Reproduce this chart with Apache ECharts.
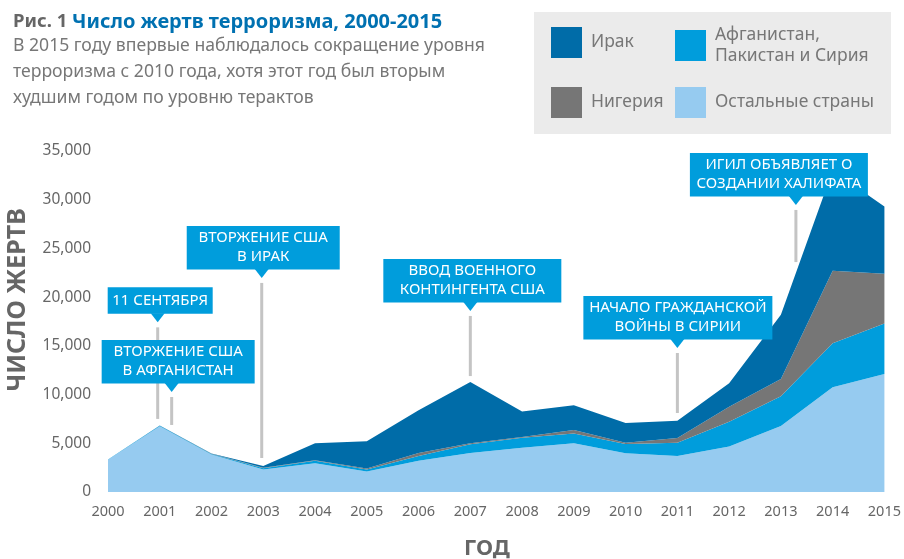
<!DOCTYPE html>
<html>
<head>
<meta charset="utf-8">
<script src="https://cdn.jsdelivr.net/npm/echarts@6/dist/echarts.min.js"></script>
<style>
html,body{margin:0;padding:0;background:#fff;}
#chart{width:904px;height:559px;}
</style>
</head>
<body>
<div id="chart"></div>
<script>
// ---- data ----
const years = ['2000','2001','2002','2003','2004','2005','2006','2007','2008','2009','2010','2011','2012','2013','2014','2015'];
const otherCountries = [3300,6750,3850,2300,2950,2100,3200,4000,4550,5000,3970,3700,4660,6780,10750,12100];
const afghanPakSyria = [30,50,60,150,250,200,500,900,1020,1000,960,1360,2560,3060,4520,5200];
const nigeria = [0,0,10,30,50,100,300,100,80,360,130,480,1540,1760,7430,5100];
const iraq = [10,20,30,200,1750,2800,4400,6300,2600,2540,2020,1780,2400,6600,10300,6900];
const yTicks = [0,5000,10000,15000,20000,25000,30000,35000];

const seriesNames = ['Остальные страны','Афганистан, Пакистан и Сирия','Нигерия','Ирак'];
// event annotations: position along the year axis (fractional) and leader line span in values
const events = [
  {text:'11 СЕНТЯБРЯ', year:2000.96, from:16900, to:7500},
  {text:'ВТОРЖЕНИЕ США\nВ АФГАНИСТАН', year:2001.23, from:9750, to:6880},
  {text:'ВТОРЖЕНИЕ США\nВ ИРАК', year:2002.97, from:21460, to:3490},
  {text:'ВВОД ВОЕННОГО\nКОНТИНГЕНТА США', year:2007.0, from:18070, to:11900},
  {text:'НАЧАЛО ГРАЖДАНСКОЙ\nВОЙНЫ В СИРИИ', year:2011.0, from:14270, to:8110},
  {text:'ИГИЛ ОБЪЯВЛЯЕТ О\nСОЗДАНИИ ХАЛИФАТА', year:2013.29, from:28950, to:23600}
];
// box geometry (style): width, left offset from pointer
const boxStyle = [
  {w:105, dx:-50},
  {w:153, dx:-70},
  {w:153, dx:-75},
  {w:178, dx:-87},
  {w:189, dx:-94},
  {w:178, dx:-106}
];

const colors = {
  'Ирак':'#006ca8',
  'Афганистан, Пакистан и Сирия':'#009ddc',
  'Нигерия':'#767676',
  'Остальные страны':'#96cbf0'
};
const valuesByName = {
  'Остальные страны':otherCountries,
  'Афганистан, Пакистан и Сирия':afghanPakSyria,
  'Нигерия':nigeria,
  'Ирак':iraq
};

const FONT = '"Noto Sans", "DejaVu Sans", sans-serif';
const chart = echarts.init(document.getElementById('chart'), null, {renderer:'canvas'});

const series = seriesNames.map(n => ({
  name:n, type:'line', stack:'total', symbol:'none', smooth:false,
  lineStyle:{width:0}, areaStyle:{color:colors[n], opacity:1},
  itemStyle:{color:colors[n]},
  data: valuesByName[n],
  z:2
}));

function legendItem(name, left, top){
  return {
    orient:'vertical', left:left, top:top, itemWidth:31, itemHeight:31,
    icon:'rect', selectedMode:false, data:[name],
    textStyle:{fontFamily:FONT, fontSize:17.5, color:'#777', lineHeight:20.5, padding:[0,0,0,4]},
    formatter: n => n.replace(', ', ',\n'),
    padding:0, z:5
  };
}

const option = {
  animation:false,
  textStyle:{fontFamily:FONT},
  title:{
    left:8, top:5, itemGap:3,
    text:'{a|Рис. 1 }{b|Число жертв терроризма, 2000-2015}',
    textStyle:{rich:{
      a:{fontFamily:FONT, fontSize:18.5, color:'#666', lineHeight:24},
      b:{fontFamily:FONT, fontSize:20, fontWeight:'bold', color:'#0071b1', lineHeight:24}
    }},
    subtext:'В 2015 году впервые наблюдалось сокращение уровня\nтерроризма с 2010 года, хотя этот год был вторым\nхудшим годом по уровню терактов',
    subtextStyle:{fontFamily:FONT, fontSize:17.6, color:'#777', lineHeight:25.8}
  },
  legend:[
    legendItem('Ирак', 551, 27),
    legendItem('Нигерия', 551, 87),
    legendItem('Афганистан, Пакистан и Сирия', 675, 25),
    legendItem('Остальные страны', 675, 87)
  ],
  grid:{left:108, right:14, top:151, bottom:67, containLabel:false},
  xAxis:{
    type:'category', data:years, boundaryGap:false,
    axisLine:{show:false}, axisTick:{show:false}, splitLine:{show:false},
    axisLabel:{fontFamily:FONT, fontSize:14.5, color:'#666', margin:12, interval:0}
  },
  yAxis:{
    type:'value', min:yTicks[0], max:yTicks[yTicks.length-1], interval:yTicks[1]-yTicks[0],
    axisLine:{show:false}, axisTick:{show:false}, splitLine:{show:false},
    axisLabel:{fontFamily:FONT, fontSize:15.5, color:'#666', margin:17,
      formatter:v=>v.toLocaleString('en-US')}
  },
  series:series
};
chart.setOption(option);

function yearToPx(year){
  const i = Math.floor(year - 2000);
  const f = (year - 2000) - i;
  const i2 = Math.min(i+1, years.length-1);
  const a = chart.convertToPixel({xAxisIndex:0}, years[i]);
  const b = chart.convertToPixel({xAxisIndex:0}, years[i2]);
  return a + f*(b-a);
}
function valToPx(v){ return chart.convertToPixel({yAxisIndex:0}, v); }

function buildGraphics(){
  const g = [];
  g.push({type:'rect', left:534, top:12, shape:{width:357, height:122}, style:{fill:'#ebebeb'}, z:0, silent:true});
  g.push({type:'text', x:18, y:300, rotation:Math.PI/2, z:3,
    style:{text:'ЧИСЛО ЖЕРТВ', fontFamily:FONT, fontSize:25, fontWeight:'bold', fill:'#666', align:'center', verticalAlign:'middle'}});
  g.push({type:'text', x:487, y:549, z:3,
    style:{text:'ГОД', fontFamily:FONT, fontSize:22, fontWeight:'bold', fill:'#666', align:'center', verticalAlign:'middle'}});
  events.forEach((ev,i)=>{
    const x = yearToPx(ev.year);
    const yTop = valToPx(ev.from);
    const yBot = valToPx(ev.to);
    const tipY = yTop-5;
    const baseY = tipY-9;
    const lines = ev.text.split('\n').length;
    const h = lines===1 ? 26 : 43;
    const bs = boxStyle[i];
    g.push({type:'line', z:3, silent:true, shape:{x1:x, y1:yTop, x2:x, y2:yBot}, style:{stroke:'#c4c4c4', lineWidth:3}});
    g.push({type:'rect', z:6, silent:true, shape:{x:x+bs.dx, y:baseY-h, width:bs.w, height:h+0.5}, style:{fill:'#009ddc'}});
    g.push({type:'polygon', z:6, silent:true, shape:{points:[[x-7,baseY],[x+7,baseY],[x,tipY]]}, style:{fill:'#009ddc'}});
    g.push({type:'text', z:7, silent:true, x:x+bs.dx+bs.w/2, y:baseY-h/2,
      style:{text:ev.text, fontFamily:FONT, fontSize:15, fill:'#fff', align:'center', verticalAlign:'middle', lineHeight:19}});
  });
  return g;
}
chart.setOption({graphic:buildGraphics()});
</script>
</body>
</html>
